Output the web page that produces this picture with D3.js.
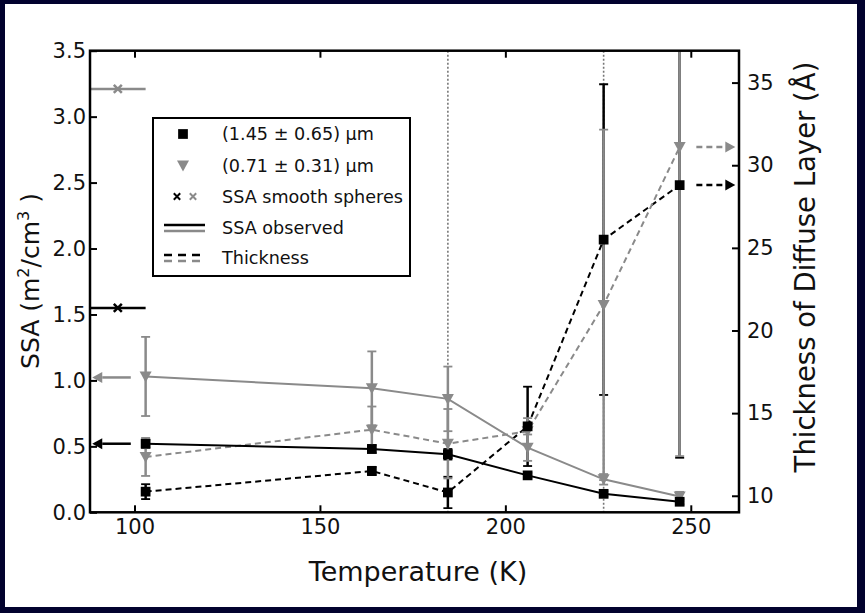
<!DOCTYPE html>
<html>
<head>
<meta charset="utf-8">
<script src="https://cdn.jsdelivr.net/npm/d3@7"></script>
<style>
  body { margin: 0; background: #02022e; }
  svg text { font-family: "DejaVu Sans", sans-serif; fill: #111; }
</style>
</head>
<body>
<div id="d3-container"></div>
<script>
// temperatures (K)
const temps = [103, 164, 184.5, 206, 226.5, 247];

// SSA observed (m2/cm3), left axis
const ssaLarge = [0.52, 0.48, 0.44, 0.28, 0.14, 0.08];
const ssaLargeErr = [0.03, 0.03, 0.04, 0.02, 0.02, 0.02];
const ssaSmall = [1.03, 0.94, 0.86, 0.49, 0.25, 0.12];
const ssaSmallErr = [0.30, 0.28, 0.245, 0.1, 0.04, 0.035];

// thickness of diffuse layer (angstrom), right axis
const thickLarge = [10.25, 11.5, 10.2, 14.2, 25.5, 28.8];
const thickLargeErr = [0.45, 0.25, 0.95, 2.4, 9.4, 16.5];
const thickSmall = [12.35, 14.0, 13.15, 13.9, 21.55, 31.1];
const thickSmallErr = [1.15, 1.4, 2.1, 0.8, 10.6, 18.7];

// SSA smooth spheres [large, small]
const sphereSSA = [1.55, 3.21];
const sphereT = 95.5;

// vertical reference lines
const refTemps = [184.5, 226.5];

const xTicks = [100, 150, 200, 250];
const yLeftTicks = [0, 0.5, 1, 1.5, 2, 2.5, 3, 3.5];
const yRightTicks = [10, 15, 20, 25, 30, 35];

const legendLabels = ["(1.45 \u00b1 0.65) \u00b5m", "(0.71 \u00b1 0.31) \u00b5m", "SSA smooth spheres", "SSA observed", "Thickness"];

const black = "#000", gray = "#8a8a8a";

const width = 865, height = 613;
const plot = {left: 90, right: 739, top: 50.7, bottom: 512.3};

const svg = d3.select("#d3-container").append("svg")
    .attr("width", width).attr("height", height);

svg.append("rect").attr("width", width).attr("height", height).attr("fill", "#02022e");
svg.append("rect").attr("x", 5).attr("y", 4).attr("width", 852).attr("height", 603).attr("fill", "#fff");

const x = d3.scaleLinear().domain([88, 263]).range([plot.left, plot.right]);
const yL = d3.scaleLinear().domain([0, 3.5]).range([plot.bottom, plot.top]);
const yR = d3.scaleLinear().domain([9, 36.93]).range([plot.bottom, plot.top]);

svg.append("clipPath").attr("id", "clip").append("rect")
    .attr("x", plot.left).attr("y", plot.top)
    .attr("width", plot.right - plot.left).attr("height", plot.bottom - plot.top);

const g = svg.append("g").attr("clip-path", "url(#clip)");

// dotted reference lines
g.selectAll(".ref").data(refTemps).enter().append("line")
    .attr("x1", d => x(d)).attr("x2", d => x(d))
    .attr("y1", plot.top).attr("y2", plot.bottom)
    .attr("stroke", "#777").attr("stroke-width", 1.6).attr("stroke-dasharray", "2,2");

function errorBars(vals, errs, y, color) {
    const cap = 4.5;
    const grp = g.append("g").attr("stroke", color).attr("stroke-width", 2.5);
    temps.forEach((t, i) => {
        const cx = x(t), lo = y(vals[i] - errs[i]), hi = y(vals[i] + errs[i]);
        grp.append("line").attr("x1", cx).attr("x2", cx).attr("y1", lo).attr("y2", hi);
        grp.append("line").attr("x1", cx - cap).attr("x2", cx + cap).attr("y1", lo).attr("y2", lo).attr("stroke-width", 1.8);
        grp.append("line").attr("x1", cx - cap).attr("x2", cx + cap).attr("y1", hi).attr("y2", hi).attr("stroke-width", 1.8);
    });
}

errorBars(thickLarge, thickLargeErr, yR, black);
errorBars(ssaLarge, ssaLargeErr, yL, black);
errorBars(thickSmall, thickSmallErr, yR, gray);
errorBars(ssaSmall, ssaSmallErr, yL, gray);

function series(vals, y, color, dashed) {
    g.append("path")
        .datum(vals)
        .attr("d", d3.line().x((d, i) => x(temps[i])).y(d => y(d)))
        .attr("fill", "none").attr("stroke", color).attr("stroke-width", 2)
        .attr("stroke-dasharray", dashed ? "6,4" : null);
}
series(thickLarge, yR, black, true);
series(thickSmall, yR, gray, true);
series(ssaLarge, yL, black, false);
series(ssaSmall, yL, gray, false);

const tri = "M-6,-5L6,-5L0,6Z";
const square = d3.symbol().type(d3.symbolSquare).size(95)();
function markers(vals, y, color, shape) {
    g.selectAll(null).data(vals).enter().append("path")
        .attr("d", shape)
        .attr("transform", (d, i) => `translate(${x(temps[i])},${y(d)})`)
        .attr("fill", color);
}
markers(thickSmall, yR, gray, tri);
markers(ssaSmall, yL, gray, tri);
markers(thickLarge, yR, black, square);
markers(ssaLarge, yL, black, square);

// smooth spheres: horizontal bars with x markers
const xMark = "M-4,-4L4,4M-4,4L4,-4";
[black, gray].forEach((c, i) => {
    g.append("line").attr("x1", x(88)).attr("x2", x(103))
        .attr("y1", yL(sphereSSA[i])).attr("y2", yL(sphereSSA[i]))
        .attr("stroke", c).attr("stroke-width", 2.5);
    g.append("path").attr("d", xMark)
        .attr("transform", `translate(${x(sphereT)},${yL(sphereSSA[i])})`)
        .attr("stroke", c).attr("stroke-width", 2.5).attr("fill", "none");
});

// arrows
function arrow(x1, x2, yv, color, dashed) {
    const dir = x2 > x1 ? 1 : -1;
    const head = 10;
    svg.append("line").attr("x1", x1).attr("x2", x2 - dir * head)
        .attr("y1", yv).attr("y2", yv)
        .attr("stroke", color).attr("stroke-width", 2.5)
        .attr("stroke-dasharray", dashed ? "6,4" : null);
    svg.append("path")
        .attr("d", `M${x2},${yv}L${x2 - dir * head},${yv - 5.5}L${x2 - dir * head},${yv + 5.5}Z`)
        .attr("fill", color);
}
arrow(x(99), x(88.6), yL(ssaLarge[0]), black, false);
arrow(x(99), x(88.6), yL(ssaSmall[0]) + 1, gray, false);
arrow(x(251.5), x(262), yR(thickLarge[5]), black, true);
arrow(x(251.5), x(262), yR(thickSmall[5]), gray, true);

// axes
const tickFont = 21;
const axB = svg.append("g").attr("transform", `translate(0,${plot.bottom})`)
    .call(d3.axisBottom(x).tickValues(xTicks).tickSizeInner(-7).tickSizeOuter(0).tickPadding(7));
const axT = svg.append("g").attr("transform", `translate(0,${plot.top})`)
    .call(d3.axisTop(x).tickValues(xTicks).tickSizeInner(-7).tickSizeOuter(0).tickFormat(""));
const axL = svg.append("g").attr("transform", `translate(${plot.left},0)`)
    .call(d3.axisLeft(yL).tickValues(yLeftTicks).tickSizeInner(-7).tickSizeOuter(0).tickPadding(4).tickFormat(d3.format(".1f")));
const axR = svg.append("g").attr("transform", `translate(${plot.right},0)`)
    .call(d3.axisRight(yR).tickValues(yRightTicks).tickSizeInner(-7).tickSizeOuter(0).tickPadding(8));
[axB, axT, axL, axR].forEach(a => {
    a.select(".domain").remove();
    a.selectAll(".tick line").attr("stroke", "#000").attr("stroke-width", 2);
    a.selectAll(".tick text").attr("font-size", tickFont).attr("font-family", "DejaVu Sans").attr("fill", "#111");
});

svg.append("rect").attr("x", plot.left).attr("y", plot.top)
    .attr("width", plot.right - plot.left).attr("height", plot.bottom - plot.top)
    .attr("fill", "none").attr("stroke", "#000").attr("stroke-width", 2.5);

// axis labels
svg.append("text").attr("x", 418).attr("y", 581)
    .attr("text-anchor", "middle").attr("font-size", 27).text("Temperature (K)");

const ssaLabel = svg.append("text").attr("transform", "translate(39,281) rotate(-90)")
    .attr("text-anchor", "middle").attr("font-size", 25);
ssaLabel.append("tspan").text("SSA (m");
ssaLabel.append("tspan").attr("font-size", 16).attr("dy", -10).text("2");
ssaLabel.append("tspan").attr("dy", 10).text("/cm");
ssaLabel.append("tspan").attr("font-size", 16).attr("dy", -10).text("3");
ssaLabel.append("tspan").attr("dy", 10).text(" )");

svg.append("text").attr("transform", "translate(815,267) rotate(-90)")
    .attr("text-anchor", "middle").attr("font-size", 27.5).text("Thickness of Diffuse Layer (\u00c5)");

// legend
const lg = svg.append("g");
lg.append("rect").attr("x", 153).attr("y", 118).attr("width", 257).attr("height", 158)
    .attr("fill", "#fff").attr("stroke", "#000").attr("stroke-width", 2);
const rows = [134, 165.5, 196.5, 228, 258];
lg.selectAll("text").data(legendLabels).enter().append("text")
    .attr("x", 222).attr("y", (d, i) => rows[i]).attr("dy", "0.35em")
    .attr("font-size", 17.6).text(d => d);
lg.append("path").attr("d", square).attr("transform", `translate(183,${rows[0]})`).attr("fill", black);
lg.append("path").attr("d", tri).attr("transform", `translate(183,${rows[1]})`).attr("fill", gray);
lg.append("path").attr("d", xMark).attr("transform", `translate(177,${rows[2]}) scale(0.8)`)
    .attr("stroke", black).attr("stroke-width", 2.5).attr("fill", "none");
lg.append("path").attr("d", xMark).attr("transform", `translate(193,${rows[2]}) scale(0.8)`)
    .attr("stroke", gray).attr("stroke-width", 2.5).attr("fill", "none");
[[black, -3], [gray, 3]].forEach(([c, off]) => {
    lg.append("line").attr("x1", 164).attr("x2", 205).attr("y1", rows[3] + off).attr("y2", rows[3] + off)
        .attr("stroke", c).attr("stroke-width", 2.5);
    lg.append("line").attr("x1", 164).attr("x2", 205).attr("y1", rows[4] + off).attr("y2", rows[4] + off)
        .attr("stroke", c).attr("stroke-width", 2.5).attr("stroke-dasharray", "8,6");
});
</script>
</body>
</html>
